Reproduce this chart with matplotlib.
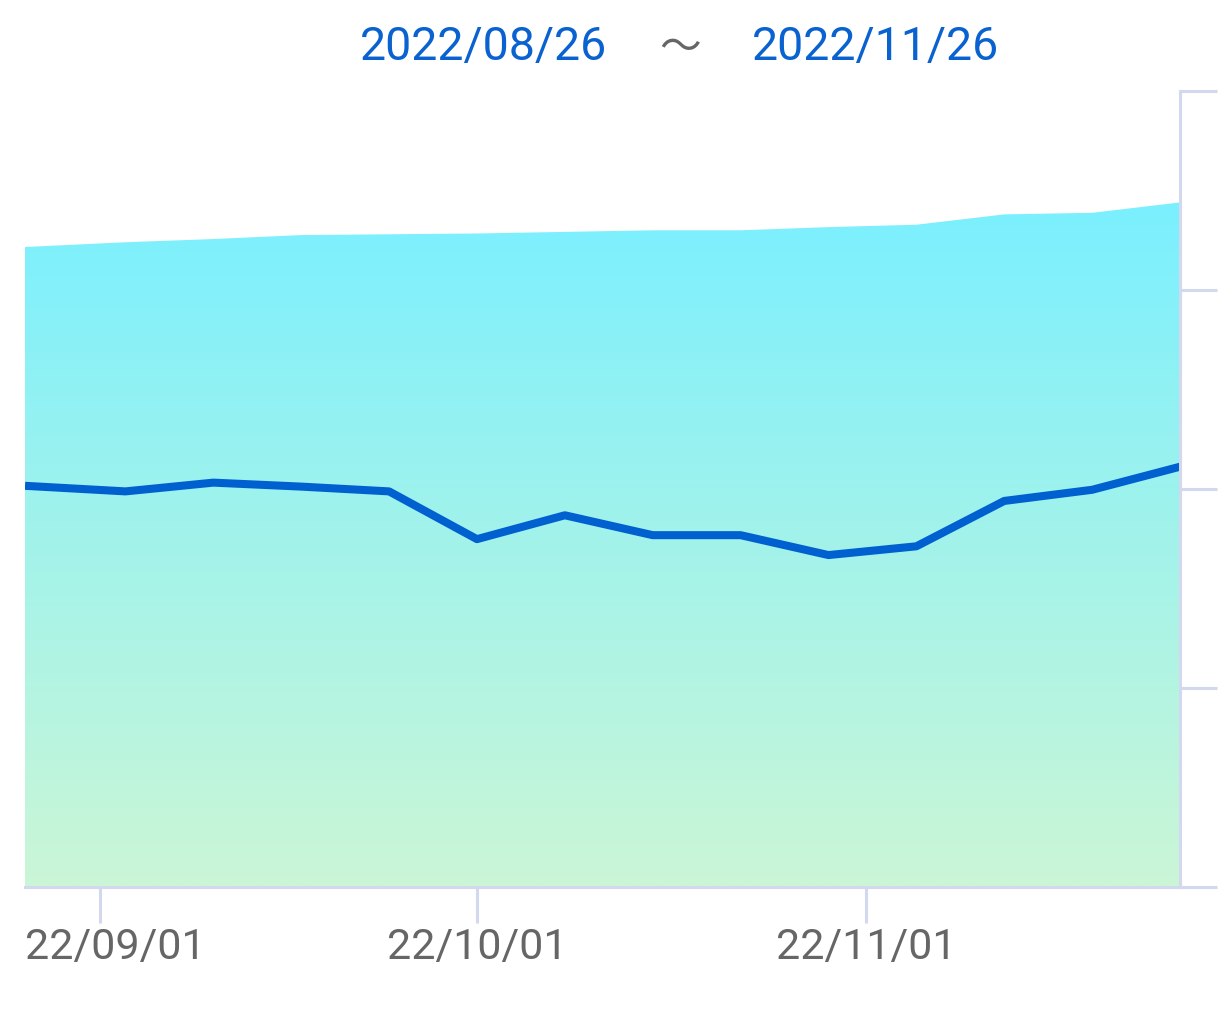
import matplotlib
matplotlib.use('Agg')
import matplotlib.pyplot as plt
import matplotlib.dates as mdates
import numpy as np
from matplotlib.patches import PathPatch
from matplotlib.transforms import Affine2D
from matplotlib.colors import to_rgb

# ---- data ----
dates = ['2022-08-26', '2022-09-03', '2022-09-10', '2022-09-17', '2022-09-24',
         '2022-10-01', '2022-10-08', '2022-10-15', '2022-10-22', '2022-10-29',
         '2022-11-05', '2022-11-12', '2022-11-19', '2022-11-26']
area_values = [80.4, 81.0, 81.4, 81.9, 82.0, 82.1, 82.3, 82.5, 82.5, 82.9,
               83.2, 84.5, 84.7, 86.0]
line_values = [50.4, 49.7, 50.8, 50.3, 49.7, 43.7, 46.7, 44.2, 44.2, 41.7,
               42.8, 48.5, 49.9, 52.8]
x_tick_dates = ['2022-09-01', '2022-10-01', '2022-11-01']
x_tick_labels = ['22/09/01', '22/10/01', '22/11/01']
y_ticks = [0, 25, 50, 75, 100]
title_start = '2022/08/26'
title_sep = '〜'
title_end = '2022/11/26'

# ---- style ----
plt.rcParams['font.family'] = ['Roboto', 'DejaVu Sans']
W, H = 1226, 1024
fig = plt.figure(figsize=(W / 100, H / 100), dpi=100)
left_px, right_px, top_px, bottom_px = 25, 1180, 91, 887
ax = fig.add_axes([left_px / W, 1 - bottom_px / H,
                   (right_px - left_px) / W, (bottom_px - top_px) / H])

spine_c = '#d2d8ee'
line_c = '#0060d0'
title_c = '#0a62d0'
tick_label_c = '#666666'

x = mdates.datestr2num(dates)
xt = mdates.datestr2num(x_tick_dates)

# gradient-filled area
fill = ax.fill_between(x, 0, area_values, facecolor='none', edgecolor='none')
path = fill.get_paths()[0]
patch = PathPatch(path, facecolor='none', edgecolor='none', transform=ax.transData)
ax.add_patch(patch)

c_bottom = np.array(to_rgb('#cbf6d6'))
c_top = np.array(to_rgb('#80f0fc'))
v = np.linspace(0, 100, 256)
t = (v / 80.0)[:, None]
cols = np.clip(c_bottom + t * (c_top - c_bottom), 0, 1)
grad = cols[:, None, :]
img = ax.imshow(grad, extent=[x[0], x[-1], 0, 100], aspect='auto',
                origin='lower', zorder=1, interpolation='bilinear')
img.set_clip_path(patch)

# line
ax.plot(x, line_values, color=line_c, lw=5.8, solid_joinstyle='round',
        solid_capstyle='butt', zorder=3)

ax.set_xlim(x[0], x[-1])
ax.set_ylim(y_ticks[0], y_ticks[-1])

# axes styling
for s in ['left', 'top']:
    ax.spines[s].set_visible(False)
for s in ['right', 'bottom']:
    ax.spines[s].set_color(spine_c)
    ax.spines[s].set_linewidth(2.2)
    ax.spines[s].set_zorder(4)

ax.yaxis.tick_right()
ax.set_yticks(y_ticks)
ax.tick_params(axis='y', which='major', direction='out', length=26.6, width=2.2,
               color=spine_c, labelright=False, labelleft=False, right=True, left=False)
ax.set_xticks(xt)
ax.set_xticklabels(x_tick_labels)
ax.tick_params(axis='x', which='major', direction='out', length=26, width=2.2,
               color=spine_c, labelcolor=tick_label_c, labelsize=31, pad=3.0)
ax.xaxis.set_minor_locator(matplotlib.ticker.NullLocator())

# title pieces
yb = 1 - 60 / H
fig.text(607 / W, yb, title_start, ha='right', va='baseline', color=title_c,
         fontsize=33.5, family=['Roboto', 'DejaVu Sans'])
fig.text(680 / W, yb, title_sep, ha='center', va='baseline', color='#666666',
         fontsize=30, family=['Noto Sans CJK JP', 'DejaVu Sans'])
fig.text(752 / W, yb, title_end, ha='left', va='baseline', color=title_c,
         fontsize=33.5, family=['Roboto', 'DejaVu Sans'])

# keep first tick label inside the chart (left aligned to the axes edge)
fig.canvas.draw()
lab = ax.get_xticklabels()[0]
dx = ax.transData.transform((xt[0], 0))[0] - ax.transAxes.transform((0, 0))[0]
lab.set_horizontalalignment('left')
lab.set_transform(lab.get_transform() + Affine2D().translate(-dx, 0))

fig.savefig('out.png', dpi=100, facecolor='white')
